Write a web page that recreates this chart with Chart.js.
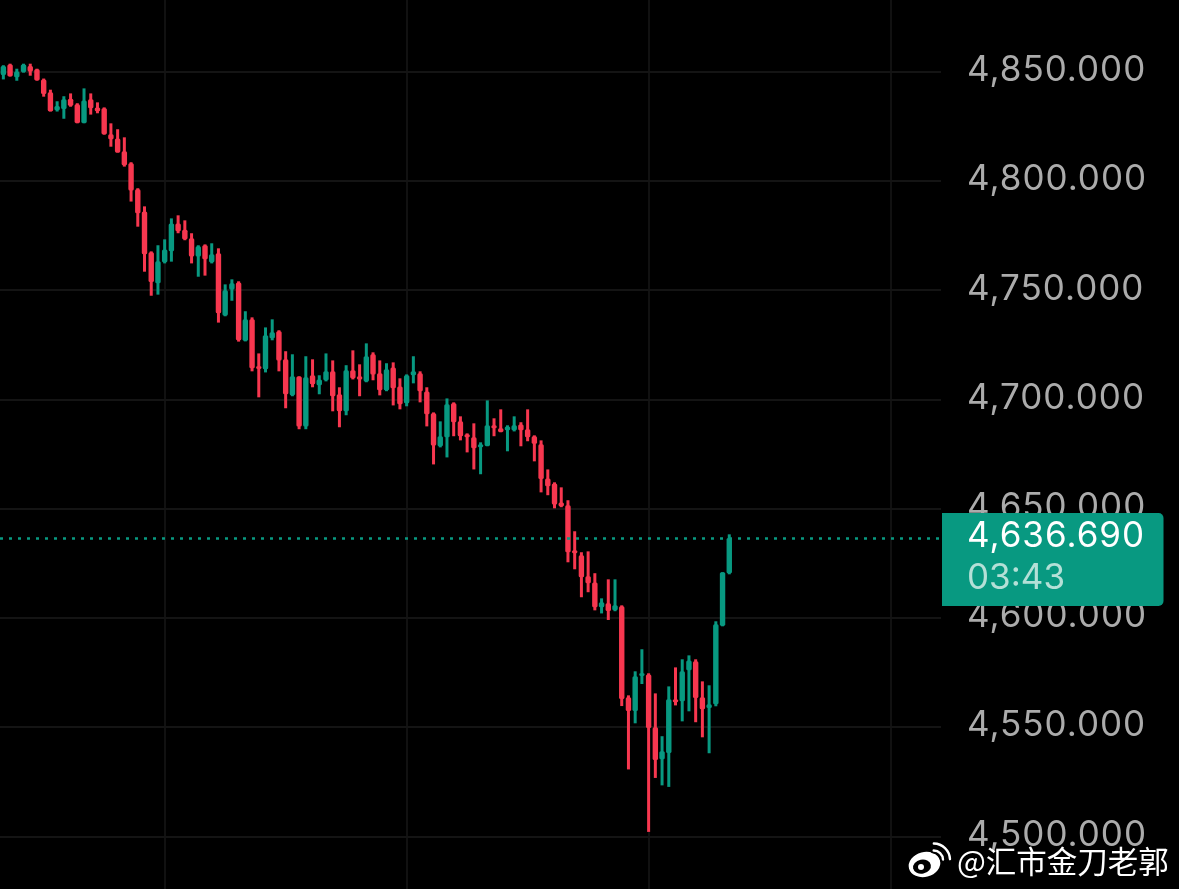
<!DOCTYPE html>
<html lang="zh">
<head>
<meta charset="utf-8">
<title>Candlestick</title>
<style>html,body{margin:0;padding:0;background:#000}canvas{display:block}</style>
<script src="https://cdn.jsdelivr.net/npm/chart.js@4/dist/chart.umd.min.js"></script>
</head>
<body>
<canvas id="c" width="1179" height="889"></canvas>
<script>
const opens = [4848.6,4853.4,4847.6,4850.0,4852.8,4851.2,4846.6,4840.7,4832.5,4833.1,4837.8,4835.2,4826.7,4837.5,4833.8,4833.4,4821.5,4819.6,4813.7,4808.2,4796.3,4786.2,4767.5,4753.3,4762.9,4767.9,4780.7,4777.8,4773.9,4765.6,4770.7,4762.9,4767.0,4738.6,4750.5,4753.7,4727.0,4736.8,4715.3,4713.9,4728.1,4731.3,4718.5,4702.0,4710.6,4687.8,4711.2,4706.6,4708.9,4713.0,4702.5,4694.7,4713.5,4710.7,4708.4,4720.8,4712.1,4704.3,4714.8,4706.1,4698.4,4711.2,4712.1,4703.8,4693.8,4678.7,4682.8,4698.4,4690.1,4684.2,4682.8,4678.2,4678.8,4688.3,4686.9,4686.0,4686.0,4688.7,4686.5,4683.3,4679.6,4664.0,4661.7,4653.0,4651.7,4631.1,4628.8,4619.2,4616.4,4605.0,4606.8,4603.6,4605.5,4563.8,4557.5,4573.6,4574.3,4550.1,4535.4,4538.3,4562.9,4562.0,4576.2,4580.3,4563.8,4558.9,4560.6,4596.6,4620.6];
const highs = [4853.1,4853.8,4851.5,4853.8,4853.8,4851.5,4847.0,4841.9,4836.6,4838.9,4840.2,4835.7,4842.5,4840.2,4836.1,4833.8,4826.5,4823.8,4820.1,4808.7,4796.8,4788.5,4767.9,4770.7,4773.4,4783.0,4784.4,4782.1,4776.2,4770.7,4771.1,4771.6,4769.3,4752.8,4755.1,4754.2,4740.5,4737.7,4721.2,4733.1,4736.8,4731.8,4722.2,4720.8,4710.7,4719.9,4718.5,4711.2,4721.2,4718.0,4705.7,4715.8,4722.6,4716.2,4725.8,4721.7,4718.0,4716.7,4717.1,4709.8,4711.6,4719.9,4713.0,4705.7,4694.2,4690.1,4700.6,4698.8,4692.4,4684.6,4689.2,4680.5,4699.7,4691.5,4695.6,4688.3,4692.4,4689.7,4695.6,4683.7,4681.4,4668.1,4662.2,4659.9,4654.0,4639.8,4630.2,4630.6,4620.6,4609.1,4617.8,4617.8,4605.9,4564.7,4575.7,4585.8,4574.8,4565.6,4546.0,4568.8,4577.5,4581.2,4583.0,4581.2,4571.1,4569.3,4598.6,4621.0,4638.4];
const lows = [4846.6,4847.9,4846.0,4849.7,4848.3,4846.0,4838.7,4831.9,4831.9,4828.6,4834.1,4826.5,4826.5,4830.5,4831.1,4821.3,4815.8,4813.1,4806.7,4790.7,4779.2,4758.6,4747.6,4748.1,4762.4,4763.2,4776.2,4773.0,4762.4,4756.3,4756.8,4762.4,4735.3,4738.2,4745.3,4726.6,4726.7,4713.0,4701.1,4712.5,4727.2,4713.0,4696.1,4701.6,4686.5,4686.5,4705.7,4702.5,4708.4,4694.7,4687.4,4692.9,4709.3,4701.6,4708.0,4708.9,4702.0,4703.9,4697.4,4695.6,4697.0,4707.5,4698.8,4687.8,4670.4,4678.2,4673.6,4683.3,4681.4,4675.9,4668.1,4665.9,4678.7,4683.3,4685.1,4676.4,4685.5,4678.7,4681.0,4671.8,4657.6,4656.3,4650.3,4650.8,4625.6,4622.4,4609.6,4611.9,4603.6,4602.2,4599.2,4603.2,4559.8,4530.8,4551.9,4569.9,4502.2,4526.9,4523.5,4522.8,4560.1,4552.8,4557.4,4552.4,4545.5,4538.2,4559.7,4596.3,4620.1];
const closes = [4852.8,4848.0,4850.2,4853.4,4850.2,4846.2,4839.9,4832.0,4834.4,4837.5,4834.6,4826.7,4836.9,4833.4,4832.0,4821.5,4819.2,4813.2,4807.3,4795.8,4785.3,4766.6,4753.9,4763.4,4768.8,4780.7,4777.1,4773.4,4765.6,4770.2,4764.3,4766.6,4739.6,4750.1,4753.3,4727.2,4736.8,4714.4,4714.1,4729.5,4730.9,4718.0,4702.5,4710.7,4687.8,4710.3,4707.1,4709.3,4713.0,4701.6,4694.7,4713.5,4709.8,4709.3,4719.9,4711.6,4704.3,4713.9,4705.2,4697.9,4711.2,4713.0,4703.9,4693.3,4679.0,4683.3,4697.9,4689.7,4683.3,4682.8,4677.8,4679.6,4688.3,4686.9,4685.2,4687.8,4688.3,4686.0,4682.8,4679.9,4663.7,4660.4,4652.1,4651.2,4630.2,4629.7,4618.7,4616.0,4605.0,4607.3,4603.3,4605.9,4563.0,4557.5,4573.4,4574.8,4549.8,4535.1,4539.1,4562.9,4561.5,4575.7,4580.7,4563.5,4558.3,4560.6,4597.2,4621.0,4636.69];
const axisCategoryCount = 140;
const categories = Array.from({length: axisCategoryCount}, (_, i) => String(i));
const verticalGridCategories = [24, 60, 96, 132];
const priceTicks = [4850, 4800, 4750, 4700, 4650, 4600, 4550, 4500];
const lastPrice = 4636.69;
const countdownText = "03:43";
const watermarkText = "@汇市金刀老郭";
const UP = "#089981", DOWN = "#F7374F", GRID = "#141414", VGRID = "#111111", LABEL = "#ABABAB";
const FONT = "Inter";
const labelSize = 35;
const fmt = v => v.toLocaleString("en-US", {minimumFractionDigits: 3, maximumFractionDigits: 3});
const colors = closes.map((c, i) => c >= opens[i] ? UP : DOWN);

const overlay = {
  id: "overlay",
  beforeDraw(chart) {
    chart.ctx.letterSpacing = "1px";
    chart.scales.y.getLabelItems(chart.chartArea).forEach(item => { item.options.translation[1] -= 1.5; });
  },
  afterDatasetsDraw(chart) {
    const {ctx, chartArea: a, scales: {y}} = chart;
    const py = y.getPixelForValue(lastPrice);
    ctx.save();
    ctx.strokeStyle = UP; ctx.lineWidth = 2.6; ctx.setLineDash([3, 6]);
    ctx.beginPath(); ctx.moveTo(0, py + 0.5); ctx.lineTo(a.right - 2, py + 0.5); ctx.stroke();
    ctx.restore();
  },
  afterDraw(chart) {
    const {ctx, scales: {y}} = chart;
    const py = y.getPixelForValue(lastPrice);
    ctx.save();
    ctx.fillStyle = UP;
    ctx.beginPath();
    ctx.roundRect(942, py - 25, 221.5, 93, [0, 5, 5, 0]);
    ctx.fill();
    ctx.textAlign = "left"; ctx.textBaseline = "middle";
    ctx.font = `400 ${labelSize}px ${FONT}`;
    ctx.fillStyle = "#FFFFFF";
    ctx.fillText(fmt(lastPrice), 967, py - 1.5);
    ctx.letterSpacing = "0px";
    ctx.fillStyle = "#B4E0D7";
    ctx.fillText(countdownText, 967, py + 40);

    // watermark
    ctx.fillStyle = "#FFFFFF";
    ctx.font = `400 30.5px "Noto Sans CJK SC"`;
    ctx.fillText(watermarkText, 957, 861);
    ctx.beginPath();
    ctx.ellipse(924.5, 864.5, 16, 12.5, -0.25, 0, Math.PI * 2);
    ctx.fill();
    ctx.fillStyle = "#000";
    ctx.beginPath(); ctx.ellipse(922, 866.7, 9, 7, -0.2, 0, Math.PI * 2); ctx.fill();
    ctx.fillStyle = "#FFF";
    ctx.beginPath(); ctx.arc(921, 867, 3, 0, Math.PI * 2); ctx.fill();
    ctx.lineCap = "round";
    ctx.strokeStyle = "#000"; ctx.lineWidth = 6;
    ctx.beginPath(); ctx.arc(933.5, 860, 9.5, -1.55, -0.05); ctx.stroke();
    ctx.strokeStyle = "#FFF"; ctx.lineWidth = 2.4;
    ctx.beginPath(); ctx.arc(933.5, 860, 16.5, -1.55, -0.05); ctx.stroke();
    ctx.beginPath(); ctx.arc(933.5, 860, 9.5, -1.55, -0.05); ctx.stroke();
    ctx.restore();
  }
};

new Chart(document.getElementById("c"), {
  type: "bar",
  data: {
    labels: categories,
    datasets: [
      {label: "wick", data: lows.map((l, i) => [l, highs[i]]), backgroundColor: colors, barThickness: 3, grouped: false, inflateAmount: 0, borderWidth: 0},
      {label: "body", data: opens.map((o, i) => [o, closes[i]]), backgroundColor: colors, barThickness: 5.4, grouped: false, inflateAmount: 0, borderWidth: 0, borderSkipped: false, borderRadius: 1.5}
    ]
  },
  plugins: [overlay],
  options: {
    responsive: false,
    animation: false,
    devicePixelRatio: 1,
    layout: {padding: 0},
    plugins: {legend: {display: false}, tooltip: {enabled: false}},
    scales: {
      x: {
        type: "category",
        offset: true,
        ticks: {display: false, autoSkip: false},
        border: {display: false},
        afterFit: s => { s.height = 0; s.paddingLeft = 0; s.paddingRight = 0; },
        grid: {
          offset: false, drawTicks: false, lineWidth: 2,
          color: ctx => verticalGridCategories.includes(ctx.index) ? VGRID : "transparent"
        }
      },
      y: {
        position: "right",
        min: 4476.07,
        max: 4882.95,
        afterBuildTicks: s => { s.ticks = priceTicks.map(v => ({value: v})); },
        afterFit: s => { s.width = 238; s.paddingTop = 0; s.paddingBottom = 0; },
        border: {display: false},
        grid: {color: GRID, lineWidth: 2, drawTicks: false},
        ticks: {
          padding: 26, color: LABEL,
          font: {family: FONT, size: labelSize, weight: "400"},
          callback: v => fmt(v)
        }
      }
    }
  }
});
</script>
</body>
</html>
